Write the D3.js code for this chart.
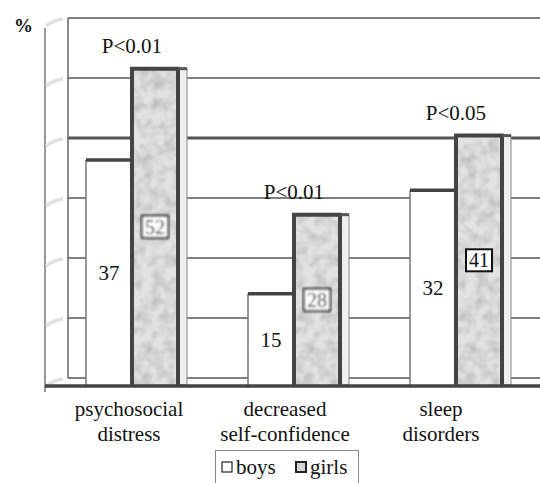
<!DOCTYPE html>
<html>
<head>
<meta charset="utf-8">
<script src="https://cdn.jsdelivr.net/npm/d3@7"></script>
</head>
<body style="margin:0">
<script>
var categories = [["psychosocial", "distress"], ["decreased", "self-confidence"], ["sleep", "disorders"]];
var boys = [37, 15, 32];
var girls = [52, 28, 41];
var pLabels = ["P<0.01", "P<0.01", "P<0.05"];
var yTicks = [0, 10, 20, 30, 40, 50, 60];
var series = ["boys", "girls"];

var width = 540, height = 483;

var svg = d3.select("body").append("svg")
    .attr("width", width)
    .attr("height", height);

svg.append("style").text("text { font-family: 'Times New Roman', 'Liberation Serif', Times, serif !important; }");

// mottled grey texture for the girls bars
var defs = svg.append("defs");
var f = defs.append("filter").attr("id", "grain")
    .attr("x", 0).attr("y", 0).attr("width", 1).attr("height", 1);
f.append("feTurbulence").attr("type", "fractalNoise")
    .attr("baseFrequency", 0.09).attr("numOctaves", 2).attr("seed", 7).attr("result", "n");
f.append("feColorMatrix").attr("in", "n").attr("type", "matrix")
    .attr("values", "0 0 0 0 0  0 0 0 0 0  0 0 0 0 0  0 0 0 1.6 -0.55").attr("result", "a");
f.append("feFlood").attr("flood-color", "#b4b4b4").attr("result", "c");
f.append("feComposite").attr("in", "c").attr("in2", "a").attr("operator", "in").attr("result", "spots");
f.append("feComposite").attr("in", "spots").attr("in2", "SourceGraphic").attr("operator", "in").attr("result", "sp2");
var fm = f.append("feMerge");
fm.append("feMergeNode").attr("in", "SourceGraphic");
fm.append("feMergeNode").attr("in", "sp2");

defs.append("filter").attr("id", "smudge")
    .append("feGaussianBlur").attr("stdDeviation", 1.3);

var idx = d3.range(categories.length);

// back wall scale and front (bar) scale
var yBack = d3.scaleLinear().domain([0, 60]).range([378, 18]);
var yFront = d3.scaleLinear().domain([0, 60]).range([385, 20]);

var x = d3.scaleBand().domain(idx).range([51, 537])
    .paddingInner(0.432).paddingOuter(0.216);
var xs = d3.scaleBand().domain(series).range([0, x.bandwidth()]);
var xLabel = d3.scalePoint().domain(idx).range([129, 441]);

function label(sel, size) {
    return sel.style("font-family", "Times New Roman")
        .style("font-size", size + "px")
        .attr("fill", "#111");
}

// back wall
var wall = svg.append("g");
wall.selectAll(".grid")
    .data(yTicks)
    .enter().append("line")
    .attr("x1", 68).attr("x2", width)
    .attr("y1", d => yBack(d)).attr("y2", d => yBack(d))
    .attr("stroke", "#555")
    .attr("stroke-width", d => d === 40 ? 3 : 1.5);
wall.append("line")
    .attr("x1", 68).attr("x2", 68)
    .attr("y1", yBack(60)).attr("y2", yBack(0))
    .attr("stroke", "#666").attr("stroke-width", 1.5);

// front axis with faint ticks
svg.append("line")
    .attr("x1", 45).attr("x2", 45)
    .attr("y1", 28).attr("y2", 392)
    .attr("stroke", "#777").attr("stroke-width", 1.5);
svg.selectAll(".tick-smudge")
    .data(yTicks)
    .enter().append("path")
    .attr("d", d => "M46," + (yBack(d) + 8) + " Q54," + (yBack(d) + 2) + " 63," + (yBack(d) + 1))
    .attr("fill", "none")
    .attr("stroke", "#e0e0e0")
    .attr("stroke-width", 3.5);

label(svg.append("text"), 19)
    .attr("x", 14).attr("y", 32)
    .style("font-weight", "bold")
    .text("%");

// bars
var groups = svg.selectAll(".grp")
    .data(idx)
    .enter().append("g")
    .attr("transform", i => "translate(" + x(i) + ",0)");

// boys: white, thin left edge, thick top
groups.append("rect")
    .attr("x", xs("boys"))
    .attr("y", i => yFront(boys[i]))
    .attr("width", xs.bandwidth())
    .attr("height", i => yFront(0) - yFront(boys[i]))
    .attr("fill", "#fff");
groups.append("line")
    .attr("x1", xs("boys")).attr("x2", xs("boys"))
    .attr("y1", i => yFront(boys[i])).attr("y2", yFront(0))
    .attr("stroke", "#777").attr("stroke-width", 1.5);
groups.append("line")
    .attr("x1", xs("boys")).attr("x2", xs("girls"))
    .attr("y1", i => yFront(boys[i])).attr("y2", i => yFront(boys[i]))
    .attr("stroke", "#444").attr("stroke-width", 3.5);

// girls: side face then textured front
groups.append("rect")
    .attr("x", xs("girls") + xs.bandwidth())
    .attr("y", i => yFront(girls[i]))
    .attr("width", 9)
    .attr("height", i => yFront(0) - yFront(girls[i]))
    .attr("fill", "#efefef")
    .attr("stroke", "#888").attr("stroke-width", 1);
groups.append("rect")
    .attr("x", xs("girls"))
    .attr("y", i => yFront(girls[i]))
    .attr("width", xs.bandwidth())
    .attr("height", i => yFront(0) - yFront(girls[i]))
    .attr("fill", "#e2e2e2")
    .attr("filter", "url(#grain)");
groups.append("path")
    .attr("d", i => "M" + xs("girls") + "," + yFront(0) + "V" + yFront(girls[i]) +
        "H" + (xs("girls") + xs.bandwidth()) + "V" + yFront(0))
    .attr("fill", "none")
    .attr("stroke", "#444").attr("stroke-width", 4);
groups.append("line")
    .attr("x1", xs("girls") + xs.bandwidth()).attr("x2", xs("girls") + xs.bandwidth() + 9)
    .attr("y1", i => yFront(girls[i])).attr("y2", i => yFront(girls[i]))
    .attr("stroke", "#555").attr("stroke-width", 3);

// front floor line
svg.append("line")
    .attr("x1", 45).attr("x2", width)
    .attr("y1", yFront(0) + 1).attr("y2", yFront(0) + 1)
    .attr("stroke", "#444").attr("stroke-width", 3.5);

// value labels
label(groups.append("text"), 21)
    .attr("x", xs("boys") + xs.bandwidth() / 2)
    .attr("y", i => (yFront(boys[i]) + yFront(0)) / 2)
    .attr("dy", "0.35em")
    .attr("text-anchor", "middle")
    .text(i => boys[i]);

var gl = groups.append("g")
    .attr("transform", i => "translate(" + (xs("girls") + xs.bandwidth() / 2) + "," +
        (yFront(girls[i]) + yFront(0)) / 2 + ")")
    .attr("filter", i => i < 2 ? "url(#smudge)" : null);
gl.append("rect")
    .attr("x", -13).attr("y", -11)
    .attr("width", 26).attr("height", 22)
    .attr("fill", "#fff")
    .attr("stroke", "#111").attr("stroke-width", 2);
label(gl.append("text"), 20)
    .attr("dy", "0.35em")
    .attr("text-anchor", "middle")
    .text(i => girls[i]);

// p-values
label(groups.append("text"), 21)
    .attr("x", x.bandwidth() / 2)
    .attr("y", i => yFront(girls[i]) - 16)
    .attr("text-anchor", "middle")
    .text(i => pLabels[i]);

// category labels
var cat = label(svg.selectAll(".cat")
    .data(idx)
    .enter().append("text"), 21)
    .attr("x", i => xLabel(i))
    .attr("y", 416)
    .attr("text-anchor", "middle");
cat.selectAll("tspan")
    .data(i => categories[i])
    .enter().append("tspan")
    .attr("x", function () { return d3.select(this.parentNode).attr("x"); })
    .attr("dy", (d, j) => j === 0 ? 0 : "1.2em")
    .text(d => d);

// legend
var lg = svg.append("g").attr("transform", "translate(215,450)");
lg.append("rect")
    .attr("x", 0.5).attr("y", 0.5)
    .attr("width", 143).attr("height", 40)
    .attr("fill", "#fff")
    .attr("stroke", "#888").attr("stroke-width", 1);
var lx = d3.scaleOrdinal().domain(series).range([7, 81]);
var li = lg.selectAll(".li")
    .data(series)
    .enter().append("g")
    .attr("transform", d => "translate(" + lx(d) + ",0)");
li.append("rect")
    .attr("x", 0).attr("y", 12)
    .attr("width", 10).attr("height", 10)
    .attr("fill", d => d === "boys" ? "#fff" : "#d5d5d5")
    .attr("stroke", "#222")
    .attr("stroke-width", d => d === "boys" ? 1.2 : 2);
label(li.append("text"), 21)
    .attr("x", 14).attr("y", 24)
    .text(d => d);
</script>
</body>
</html>
